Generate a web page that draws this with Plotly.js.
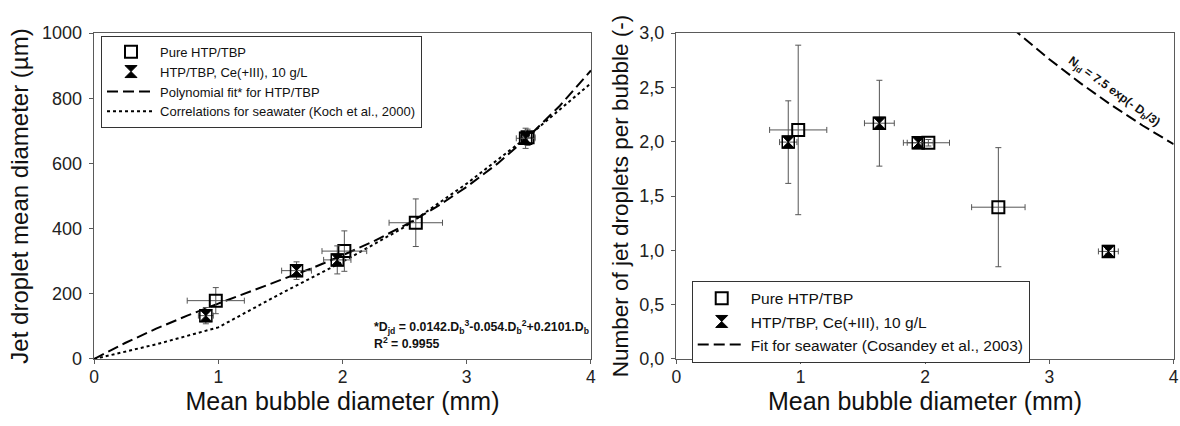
<!DOCTYPE html>
<html>
<head>
<meta charset="utf-8">
<script src="https://cdn.plot.ly/plotly-3.0.1.min.js"></script>
<style>
html,body{margin:0;padding:0;background:#fff;}
#chart{width:1180px;height:426px;}
</style>
</head>
<body>
<div id="chart"></div>
<script>
// ---------- Data: left panel (jet droplet mean diameter, µm) ----------
const pureX      = [0.98, 2.015, 2.59, 3.49];
const pureY      = [179, 331, 418, 680];
const pureXErr   = [0.23, 0.18, 0.215, 0.06];
const pureYErr   = [40, 62, 73, 25];

const ceX        = [0.90, 1.63, 1.958, 3.474];
const ceY        = [133, 271, 304, 677];
const ceXErr     = [0.06, 0.12, 0.11, 0.075];
const ceYErr     = [25, 27, 43, 31];

// Polynomial fit curve
const polyX = [0, 0.25, 0.5, 0.75, 1, 1.25, 1.5, 1.75, 2, 2.25, 2.5, 2.75, 3, 3.25, 3.5, 3.75, 4];
const polyY = [0, 49, 93, 133, 170, 206, 242, 278, 318, 361, 410, 465, 528, 600, 683, 777, 885];

// Koch et al. (2000) seawater correlation (dotted line)
const kochX = [0, 0.5, 1, 1.25, 1.5, 2, 2.5, 3, 3.5, 4];
const kochY = [0, 45, 97, 148, 200, 298, 405, 538, 685, 846];

// ---------- Data: right panel (number of jet droplets per bubble) ----------
const pureNX     = [0.98, 2.027, 2.59];
const pureN      = [2.108, 1.99, 1.397];
const pureNXErr  = [0.23, 0.17, 0.215];
const pureNYErr  = [0.78, 0.03, 0.548];

const ceNX       = [0.90, 1.633, 1.946, 3.475];
const ceN        = [1.996, 2.17, 1.99, 0.99];
const ceNXErr    = [0.07, 0.12, 0.12, 0.08];
const ceNYErr    = [0.38, 0.395, 0.03, 0.02];

// Cosandey et al. (2003) fit for seawater (dashed line)
const cosX = [2.7, 2.75, 3.0, 3.25, 3.5, 3.75, 4.0];
const cosY = [3.049, 2.998, 2.759, 2.539, 2.336, 2.149, 1.977];

// ---------- Tick labels ----------
const xTickVals  = [0, 1, 2, 3, 4];
const xTickText  = ['0', '1', '2', '3', '4'];
const yTickVals  = [0, 200, 400, 600, 800, 1000];
const yTickText  = ['0', '200', '400', '600', '800', '1000'];
const y2TickVals = [0, 0.5, 1, 1.5, 2, 2.5, 3];
const y2TickText = ['0,0', '0,5', '1,0', '1,5', '2,0', '2,5', '3,0'];

// ---------- Styles ----------
const FONT = 'Liberation Sans, Arial, sans-serif';
const AX = '#5a5a5a';
const ERR = '#555555';

function errStyle(arr) {
  return {type: 'data', array: arr, visible: true, color: ERR, thickness: 1, width: 3};
}
const squareMarker = {symbol: 'square-open', size: 12, color: '#000', line: {width: 2, color: '#000'}};
const hourMarker   = {symbol: 'hourglass', size: 12, color: '#000', line: {width: 1, color: '#000'}};
const boxMarker    = {symbol: 'square-open', size: 12, color: '#000', line: {width: 1.5, color: '#000'}};

const traces = [
  // Left panel
  {x: polyX, y: polyY, xaxis: 'x', yaxis: 'y', mode: 'lines', name: 'Polynomial fit* for HTP/TBP',
   line: {color: '#000', width: 2, dash: '11px,5px'}, legend: 'legend', legendrank: 3},
  {x: kochX, y: kochY, xaxis: 'x', yaxis: 'y', mode: 'lines', name: 'Correlations for seawater (Koch et al., 2000)',
   line: {color: '#000', width: 2, dash: 'dot'}, legend: 'legend', legendrank: 4},
  {x: pureX, y: pureY, xaxis: 'x', yaxis: 'y', mode: 'markers', name: 'Pure HTP/TBP',
   error_x: errStyle(pureXErr), error_y: errStyle(pureYErr),
   marker: squareMarker, legend: 'legend', legendrank: 1},
  {x: ceX, y: ceY, xaxis: 'x', yaxis: 'y', mode: 'markers', name: 'HTP/TBP, Ce(+III), 10 g/L',
   error_x: errStyle(ceXErr), error_y: errStyle(ceYErr),
   marker: hourMarker, legend: 'legend', legendrank: 2},
  {x: ceX, y: ceY, xaxis: 'x', yaxis: 'y', mode: 'markers', showlegend: false,
   marker: boxMarker, hoverinfo: 'skip'},

  // Right panel
  {x: cosX, y: cosY, xaxis: 'x2', yaxis: 'y2', mode: 'lines', name: 'Fit for seawater (Cosandey et al., 2003)',
   line: {color: '#000', width: 2, dash: '11px,5px'}, legend: 'legend2', legendrank: 3},
  {x: pureNX, y: pureN, xaxis: 'x2', yaxis: 'y2', mode: 'markers', name: 'Pure HTP/TBP',
   error_x: errStyle(pureNXErr), error_y: errStyle(pureNYErr),
   marker: squareMarker, legend: 'legend2', legendrank: 1},
  {x: ceNX, y: ceN, xaxis: 'x2', yaxis: 'y2', mode: 'markers', name: 'HTP/TBP, Ce(+III), 10 g/L',
   error_x: errStyle(ceNXErr), error_y: errStyle(ceNYErr),
   marker: hourMarker, legend: 'legend2', legendrank: 2},
  {x: ceNX, y: ceN, xaxis: 'x2', yaxis: 'y2', mode: 'markers', showlegend: false,
   marker: boxMarker, hoverinfo: 'skip'}
];

function axisBase() {
  return {
    showline: true, mirror: true, linecolor: AX, linewidth: 1.5,
    ticks: 'outside', ticklen: 4, tickcolor: AX, tickwidth: 1,
    showgrid: false, zeroline: false
  };
}
const xTickFont = {family: FONT, size: 17.5, color: '#222'};
const yTickFont = {family: FONT, size: 18, color: '#222'};

const yDomain = [0.1573, 0.9225];

const layout = {
  width: 1180, height: 426,
  margin: {l: 0, r: 0, t: 0, b: 0},
  paper_bgcolor: '#fff', plot_bgcolor: '#fff',
  font: {family: FONT, color: '#111'},
  showlegend: true,
  xaxis: Object.assign(axisBase(), {
    domain: [0.0797, 0.5008], range: [0, 4], anchor: 'y',
    tickmode: 'array', tickvals: xTickVals, ticktext: xTickText, tickfont: xTickFont,
    ticklabelstandoff: -2,
    title: {text: 'Mean bubble diameter (mm)', font: {family: FONT, size: 25, color: '#111'}, standoff: 0}
  }),
  yaxis: Object.assign(axisBase(), {
    domain: yDomain, range: [0, 1000], anchor: 'x',
    tickmode: 'array', tickvals: yTickVals, ticktext: yTickText, tickfont: yTickFont,
    ticklabelstandoff: 3,
    title: {text: 'Jet droplet mean diameter (µm)', font: {family: FONT, size: 24, color: '#111'}, standoff: 6}
  }),
  xaxis2: Object.assign(axisBase(), {
    domain: [0.5732, 0.9946], range: [0, 4], anchor: 'y2',
    tickmode: 'array', tickvals: xTickVals, ticktext: xTickText, tickfont: xTickFont,
    ticklabelstandoff: -2,
    title: {text: 'Mean bubble diameter (mm)', font: {family: FONT, size: 25, color: '#111'}, standoff: 0}
  }),
  yaxis2: Object.assign(axisBase(), {
    domain: yDomain, range: [0, 3], anchor: 'x2',
    tickmode: 'array', tickvals: y2TickVals, ticktext: y2TickText, tickfont: yTickFont,
    ticklabelstandoff: 3,
    title: {text: 'Number of jet droplets per bubble (-)', font: {family: FONT, size: 22.5, color: '#111'}, standoff: 4}
  }),
  legend: {
    x: 0.0856, y: 0.9162, xanchor: 'left', yanchor: 'top',
    bgcolor: '#fff', bordercolor: '#333', borderwidth: 1,
    font: {family: FONT, size: 13, color: '#111'},
    itemwidth: 48, tracegroupgap: 0, traceorder: 'normal'
  },
  legend2: {
    x: 0.5862, y: 0.341, xanchor: 'left', yanchor: 'top',
    bgcolor: '#fff', bordercolor: '#333', borderwidth: 1,
    font: {family: FONT, size: 15.5, color: '#111'},
    itemwidth: 48, tracegroupgap: 0, traceorder: 'normal'
  },
  annotations: [
    {xref: 'x', yref: 'y', x: 2.235, y: 98, xanchor: 'left', yanchor: 'middle', showarrow: false,
     text: '<b>*D<sub>jd</sub> = 0.0142.D<sub>b</sub><sup>3</sup>-0.054.D<sub>b</sub><sup>2</sup>+0.2101.D<sub>b</sub></b>',
     font: {family: FONT, size: 12.3, color: '#111'}},
    {xref: 'x', yref: 'y', x: 2.235, y: 49, xanchor: 'left', yanchor: 'middle', showarrow: false,
     text: '<b>R<sup>2</sup> = 0.9955</b>',
     font: {family: FONT, size: 12.3, color: '#111'}},
    {xref: 'x2', yref: 'y2', x: 3.52, y: 2.457, xanchor: 'center', yanchor: 'middle', showarrow: false,
     textangle: 36,
     text: '<b>N<sub>jd</sub> = 7.5 exp(- D<sub>b</sub>/3)</b>',
     font: {family: FONT, size: 12, color: '#111'}}
  ]
};

Plotly.newPlot('chart', traces, layout, {displayModeBar: false, staticPlot: true});
</script>
</body>
</html>
